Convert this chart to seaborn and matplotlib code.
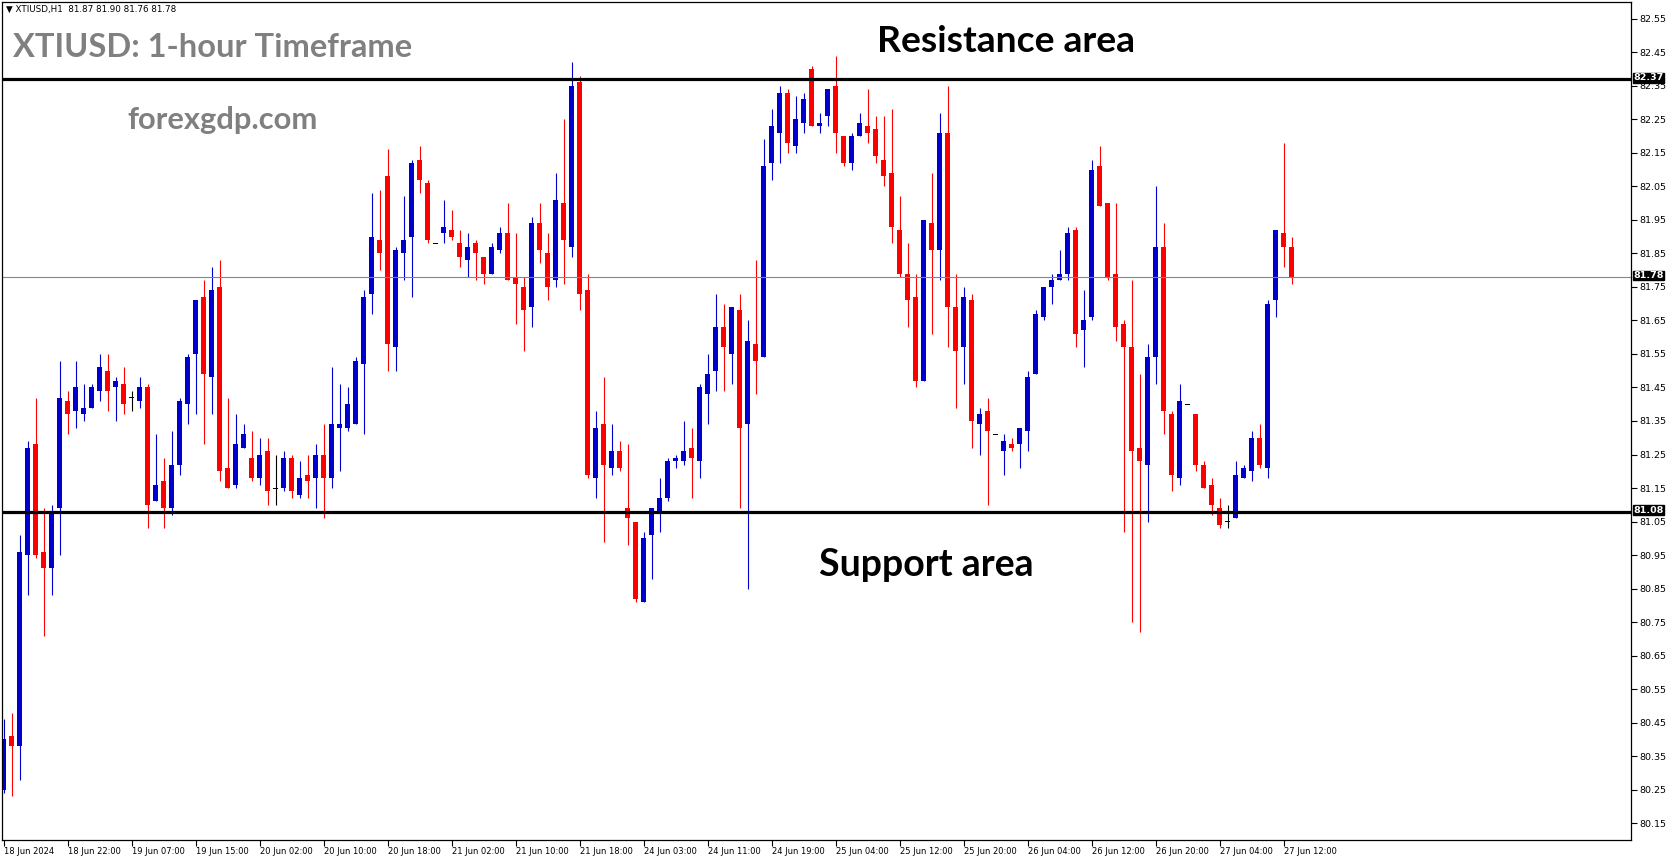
import numpy as np
import pandas as pd
import seaborn as sns
import matplotlib.pyplot as plt
from matplotlib.transforms import blended_transform_factory

# XTIUSD H1 candles
opens = [80.25, 80.41, 80.38, 80.95, 81.28, 80.96, 80.91, 81.09, 81.41, 81.38,
         81.37, 81.39, 81.44, 81.50, 81.45, 81.46, 81.42, 81.41, 81.45, 81.11,
         81.17, 81.09, 81.22, 81.40, 81.55, 81.72, 81.48, 81.75, 81.21, 81.16,
         81.27, 81.24, 81.18, 81.26, 81.15, 81.15, 81.24, 81.13, 81.19, 81.18,
         81.25, 81.18, 81.33, 81.33, 81.34, 81.52, 81.73, 81.89, 82.08, 81.57,
         81.85, 81.90, 82.13, 82.06, 81.88, 81.91, 81.92, 81.88, 81.83, 81.88,
         81.84, 81.79, 81.86, 81.91, 81.78, 81.75, 81.69, 81.94, 81.85, 81.77,
         82.00, 81.87, 82.36, 81.74, 81.18, 81.34, 81.21, 81.26, 81.09, 81.05,
         80.81, 81.01, 81.08, 81.12, 81.23, 81.23, 81.27, 81.23, 81.43, 81.50,
         81.63, 81.55, 81.68, 81.34, 81.58, 81.54, 82.12, 82.21, 82.33, 82.17,
         82.24, 82.40, 82.23, 82.26, 82.35, 82.20, 82.12, 82.20, 82.23, 82.22,
         82.13, 82.09, 81.92, 81.79, 81.72, 81.47, 81.94, 81.86, 82.21, 81.69,
         81.57, 81.71, 81.34, 81.38, 81.31, 81.26, 81.28, 81.28, 81.32, 81.49,
         81.66, 81.75, 81.77, 81.79, 81.92, 81.62, 81.66, 82.11, 82.00, 81.79,
         81.64, 81.57, 81.27, 81.22, 81.54, 81.87, 81.37, 81.18, 81.40, 81.37,
         81.22, 81.16, 81.09, 81.05, 81.06, 81.18, 81.20, 81.30, 81.21, 81.71,
         81.91, 81.87]
highs = [80.46, 80.48, 81.01, 81.29, 81.42, 81.09, 81.10, 81.53, 81.44, 81.53,
         81.46, 81.46, 81.55, 81.55, 81.48, 81.51, 81.44, 81.48, 81.46, 81.31,
         81.24, 81.32, 81.42, 81.55, 81.71, 81.77, 81.81, 81.83, 81.42, 81.37,
         81.34, 81.32, 81.30, 81.30, 81.25, 81.26, 81.25, 81.23, 81.25, 81.28,
         81.34, 81.51, 81.46, 81.45, 81.54, 81.74, 82.03, 82.04, 82.16, 81.87,
         82.02, 82.13, 82.17, 82.07, 81.88, 82.01, 81.98, 81.92, 81.91, 81.89,
         81.84, 81.88, 81.93, 82.00, 81.91, 81.78, 81.96, 82.00, 81.91, 82.09,
         82.25, 82.42, 82.38, 81.79, 81.38, 81.48, 81.34, 81.29, 81.28, 81.05,
         81.02, 81.09, 81.18, 81.24, 81.25, 81.35, 81.33, 81.46, 81.55, 81.73,
         81.70, 81.69, 81.73, 81.65, 81.83, 82.19, 82.28, 82.35, 82.34, 82.32,
         82.33, 82.41, 82.27, 82.34, 82.44, 82.20, 82.21, 82.27, 82.34, 82.26,
         82.26, 82.28, 82.02, 81.88, 81.79, 81.95, 82.09, 82.27, 82.35, 81.79,
         81.75, 81.73, 81.39, 81.42, 81.31, 81.31, 81.30, 81.33, 81.50, 81.68,
         81.75, 81.79, 81.86, 81.93, 81.93, 81.74, 82.13, 82.17, 82.00, 82.00,
         81.65, 81.77, 81.49, 81.58, 82.05, 81.94, 81.38, 81.46, 81.40, 81.37,
         81.23, 81.18, 81.12, 81.10, 81.23, 81.22, 81.32, 81.34, 81.71, 81.92,
         82.18, 81.90]
lows = [80.24, 80.23, 80.28, 80.83, 80.94, 80.71, 80.83, 80.95, 81.31, 81.33,
        81.35, 81.39, 81.41, 81.38, 81.35, 81.37, 81.38, 81.39, 81.03, 81.11,
        81.03, 81.07, 81.19, 81.34, 81.37, 81.28, 81.37, 81.17, 81.15, 81.15,
        81.27, 81.17, 81.16, 81.10, 81.10, 81.14, 81.12, 81.12, 81.12, 81.09,
        81.06, 81.15, 81.20, 81.32, 81.34, 81.31, 81.67, 81.80, 81.50, 81.50,
        81.77, 81.72, 82.03, 81.88, 81.88, 81.88, 81.89, 81.81, 81.78, 81.77,
        81.76, 81.79, 81.85, 81.77, 81.64, 81.56, 81.63, 81.82, 81.71, 81.75,
        81.76, 81.84, 81.68, 81.18, 81.12, 80.99, 81.19, 81.20, 80.98, 80.81,
        80.81, 80.88, 81.02, 81.11, 81.21, 81.22, 81.12, 81.18, 81.34, 81.44,
        81.44, 81.46, 81.09, 80.85, 81.43, 81.54, 82.07, 82.12, 82.15, 82.15,
        82.21, 82.23, 82.21, 82.23, 82.15, 82.11, 82.10, 82.20, 82.18, 82.12,
        82.05, 81.88, 81.78, 81.63, 81.45, 81.47, 81.61, 81.77, 81.57, 81.39,
        81.46, 81.27, 81.25, 81.10, 81.31, 81.19, 81.26, 81.21, 81.26, 81.49,
        81.65, 81.70, 81.77, 81.77, 81.57, 81.51, 81.65, 81.99, 81.77, 81.59,
        81.02, 80.75, 80.72, 81.05, 81.46, 81.31, 81.14, 81.16, 81.40, 81.20,
        81.15, 81.07, 81.03, 81.03, 81.06, 81.18, 81.17, 81.21, 81.18, 81.66,
        81.81, 81.76]
closes = [80.40, 80.38, 80.96, 81.27, 80.95, 80.91, 81.08, 81.42, 81.37, 81.45,
          81.39, 81.45, 81.51, 81.44, 81.47, 81.40, 81.42, 81.45, 81.10, 81.16,
          81.09, 81.22, 81.41, 81.54, 81.71, 81.49, 81.74, 81.20, 81.15, 81.28,
          81.31, 81.18, 81.25, 81.14, 81.15, 81.24, 81.14, 81.18, 81.17, 81.25,
          81.18, 81.34, 81.34, 81.40, 81.53, 81.72, 81.90, 81.85, 81.58, 81.86,
          81.89, 82.12, 82.07, 81.89, 81.88, 81.93, 81.90, 81.84, 81.87, 81.85,
          81.79, 81.87, 81.91, 81.77, 81.76, 81.68, 81.94, 81.86, 81.75, 82.01,
          81.89, 82.35, 81.73, 81.19, 81.33, 81.22, 81.26, 81.21, 81.06, 80.82,
          81.00, 81.09, 81.12, 81.23, 81.24, 81.26, 81.24, 81.45, 81.49, 81.63,
          81.57, 81.69, 81.33, 81.59, 81.53, 82.11, 82.23, 82.33, 82.18, 82.25,
          82.31, 82.23, 82.24, 82.34, 82.21, 82.12, 82.20, 82.24, 82.21, 82.14,
          82.08, 81.93, 81.79, 81.71, 81.47, 81.95, 81.86, 82.21, 81.69, 81.56,
          81.72, 81.35, 81.37, 81.32, 81.31, 81.29, 81.27, 81.33, 81.48, 81.67,
          81.75, 81.77, 81.79, 81.91, 81.61, 81.65, 82.10, 81.99, 81.78, 81.63,
          81.57, 81.26, 81.23, 81.54, 81.87, 81.38, 81.19, 81.41, 81.40, 81.22,
          81.15, 81.10, 81.04, 81.05, 81.19, 81.21, 81.30, 81.22, 81.70, 81.92,
          81.87, 81.78]

time_labels = ["18 Jun 2024", "18 Jun 22:00", "19 Jun 07:00", "19 Jun 15:00",
               "20 Jun 02:00", "20 Jun 10:00", "20 Jun 18:00", "21 Jun 02:00",
               "21 Jun 10:00", "21 Jun 18:00", "24 Jun 03:00", "24 Jun 11:00",
               "24 Jun 19:00", "25 Jun 04:00", "25 Jun 12:00", "25 Jun 20:00",
               "26 Jun 04:00", "26 Jun 12:00", "26 Jun 20:00", "27 Jun 04:00",
               "27 Jun 12:00"]
label_every = 8

resistance = 82.37
support = 81.08
last_price = 81.78

BULL = "#0000CC"
BEAR = "#FF0000"
FLAT = "#000000"

sns.set_theme(style="white")
plt.rcParams["font.family"] = ["DejaVu Sans"]

df = pd.DataFrame({"open": opens, "high": highs, "low": lows, "close": closes})
df["x"] = np.arange(len(df))
df["color"] = np.where(df.close > df.open, BULL, np.where(df.close < df.open, BEAR, FLAT))
flat_h = 0.003
df["body"] = np.maximum((df.close - df.open).abs(), flat_h)
df["bottom"] = np.where(df.close == df.open, df.open - flat_h / 2, df[["open", "close"]].min(axis=1))

W, H = 1673, 861
fig = plt.figure(figsize=(W / 100, H / 100), dpi=100)
ax = fig.add_axes([2 / W, 21 / H, 1629 / W, 838 / H])
ax.set_facecolor("white")

# wicks and bodies
ax.vlines(df.x, df.low, df.high, colors=df.color, linewidth=0.8)
ax.bar(df.x, df.body, bottom=df.bottom, width=0.625, color=df.color, linewidth=0)

# levels
ax.axhline(resistance, color="black", linewidth=2.3)
ax.axhline(support, color="black", linewidth=2.3)
ax.axhline(last_price, color="#778899", linewidth=0.8)

ax.set_xlim(-0.25, 203.4)
ax.set_ylim(80.10, 82.60)

yticks = [round(80.15 + 0.1 * i, 2) for i in range(25)]
ax.set_yticks(yticks)
ax.set_yticklabels([f"{v:.2f}" for v in yticks])
ax.yaxis.tick_right()
ax.tick_params(axis="y", direction="out", length=4, width=0.8, pad=2,
               labelsize=6.8, colors="black")

xticks = [i * label_every for i in range(len(time_labels))]
ax.set_xticks(xticks)
ax.set_xticklabels(time_labels, ha="left")
ax.tick_params(axis="x", direction="out", length=4, width=0.8, pad=1,
               labelsize=6, colors="black")
ax.tick_params(bottom=True, right=True, left=False, top=False)

for s in ax.spines.values():
    s.set_color("black")
    s.set_linewidth(0.9)

# price boxes on the right scale
tr = blended_transform_factory(ax.transAxes, ax.transData)
for lvl in [resistance, last_price, support]:
    ax.text(1.0015, lvl + 0.004, f"{lvl:.2f}", transform=tr, ha="left", va="center",
            fontsize=6.8, fontweight="bold", color="white",
            bbox=dict(boxstyle="square,pad=0.05", fc="black", ec="black"))

# texts
fig.text(6 / W, 1 - 5 / H, "\u25BC XTIUSD,H1  81.87 81.90 81.76 81.78",
         fontsize=6.3, va="top", ha="left", color="black")
fig.text(13 / W, 1 - 57 / H, "XTIUSD: 1-hour Timeframe", family="Lato",
         fontweight="bold", fontsize=23.5, color="#808080", va="baseline")
fig.text(127 / W, 1 - 129 / H, "forexgdp.com", family="Lato",
         fontweight="bold", fontsize=22.2, color="#808080", va="baseline")
fig.text(877 / W, 1 - 52 / H, "Resistance area", family="Lato",
         fontweight="bold", fontsize=26.8, color="black", va="baseline")
fig.text(819 / W, 1 - 576 / H, "Support area", family="Lato",
         fontweight="bold", fontsize=27, color="black", va="baseline")

fig.savefig("out.png", dpi=100)
